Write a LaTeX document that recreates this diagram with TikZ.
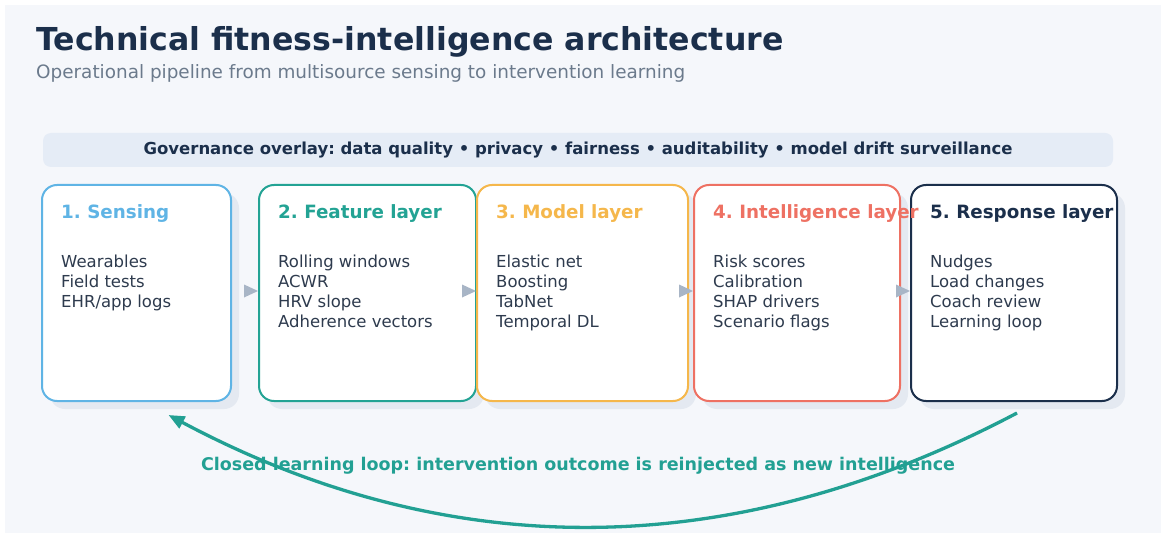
\documentclass[tikz,border=0pt]{standalone}
\usepackage{fontspec}
\setmainfont{DejaVu Sans}
\usetikzlibrary{arrows.meta,shadows}
\frenchspacing

\definecolor{bgc}{HTML}{F5F7FB}
\definecolor{bannerc}{HTML}{E5ECF6}
\definecolor{navy}{HTML}{1B2F4B}
\definecolor{subc}{HTML}{6B7A8C}
\definecolor{itemc}{HTML}{2E3B4E}
\definecolor{flowc}{HTML}{A8B5C6}
\definecolor{shadowc}{HTML}{E4E9F1}
\definecolor{sensc}{HTML}{5FB4E5}
\definecolor{featc}{HTML}{23A394}
\definecolor{modc}{HTML}{F5B74B}
\definecolor{intc}{HTML}{EE7163}
\definecolor{loopc}{HTML}{22A093}

\tikzset{
  layer/.style={draw=#1, line width=2pt, fill=white, rounded corners=15pt,
    minimum height=216pt, anchor=north west, inner sep=0pt,
    drop shadow={shadow xshift=8pt, shadow yshift=-8pt, fill=shadowc, opacity=1}},
  head/.style={text=#1, font=\fontsize{18.3}{22}\selectfont\bfseries, anchor=base west, inner sep=0pt},
  item/.style={text=itemc, font=\fontsize{16.5}{20}\selectfont, anchor=base west, inner sep=0pt},
  flow/.style={-{Triangle[length=14pt,width=13pt]}, draw=flowc, fill=flowc, line width=0pt}
}

\begin{document}
\begin{tikzpicture}[x=1pt,y=1pt]
\useasboundingbox (0,0) rectangle (1166,536);
\fill[bgc] (5,3) rectangle (1161,531);

% title and subtitle
\node[anchor=base west, inner sep=0pt, text=navy, font=\fontsize{31.6}{36}\selectfont\bfseries] (title) at (36,485) {Technical fitness-intelligence architecture};
\node[anchor=base west, inner sep=0pt, text=subc, font=\fontsize{18.4}{22}\selectfont] (subtitle) at (36,457) {Operational pipeline from multisource sensing to intervention learning};

% governance banner
\node[fill=bannerc, rounded corners=8pt, minimum width=1070pt, minimum height=34pt, inner sep=0pt,
  text=navy, font=\fontsize{16.5}{20}\selectfont\bfseries] (gov) at (578,386)
  {Governance overlay: data quality • privacy • fairness • auditability • model drift surveillance};

% five layers
\node[layer=sensc, minimum width=189pt] (s1) at (41,352) {};
\node[layer=featc, minimum width=217pt] (s2) at (258,352) {};
\node[layer=modc, minimum width=211pt] (s3) at (476,352) {};
\node[layer=intc, minimum width=206pt] (s4) at (693,352) {};
\node[layer=navy, minimum width=206pt] (s5) at (910,352) {};

\node[head=sensc] (h1) at ([xshift=20pt,yshift=-35pt]s1.north west) {1. Sensing};
\node[head=featc] (h2) at ([xshift=20pt,yshift=-35pt]s2.north west) {2. Feature layer};
\node[head=modc] (h3) at ([xshift=20pt,yshift=-35pt]s3.north west) {3. Model layer};
\node[head=intc] (h4) at ([xshift=20pt,yshift=-35pt]s4.north west) {4. Intelligence layer};
\node[head=navy] (h5) at ([xshift=20pt,yshift=-35pt]s5.north west) {5. Response layer};

% layer contents
\foreach \t [count=\i] in {Wearables,Field tests,EHR/app logs}
  \node[item] (a\i) at ([xshift=20pt,yshift=-63pt-20pt*\i]s1.north west) {\t};
\foreach \t [count=\i] in {Rolling windows,ACWR,HRV slope,Adherence vectors}
  \node[item] (b\i) at ([xshift=20pt,yshift=-63pt-20pt*\i]s2.north west) {\t};
\foreach \t [count=\i] in {Elastic net,Boosting,TabNet,Temporal DL}
  \node[item] (c\i) at ([xshift=20pt,yshift=-63pt-20pt*\i]s3.north west) {\t};
\foreach \t [count=\i] in {Risk scores,Calibration,SHAP drivers,Scenario flags}
  \node[item] (d\i) at ([xshift=20pt,yshift=-63pt-20pt*\i]s4.north west) {\t};
\foreach \t [count=\i] in {Nudges,Load changes,Coach review,Learning loop}
  \node[item] (e\i) at ([xshift=20pt,yshift=-63pt-20pt*\i]s5.north west) {\t};

% flow between layers
\foreach \b in {s2,s3,s4,s5}
  \draw[flow] ([xshift=-14pt,yshift=2pt]\b.west) -- ([yshift=2pt]\b.west);

% closed loop
\node[text=loopc, font=\fontsize{17.5}{21}\selectfont\bfseries] (looplabel) at (578,70)
  {Closed learning loop: intervention outcome is reinjected as new intelligence};
\coordinate (loopstart) at ([xshift=3pt,yshift=-11pt]s5.south);
\coordinate (loopend) at ([xshift=32pt,yshift=-13pt]s1.south);
\draw[loopc, line width=3.3pt, -{Triangle[length=16pt,width=13pt]}]
  (loopstart) .. controls (731,-28) and (448,-28) .. (loopend);
\end{tikzpicture}
\end{document}
